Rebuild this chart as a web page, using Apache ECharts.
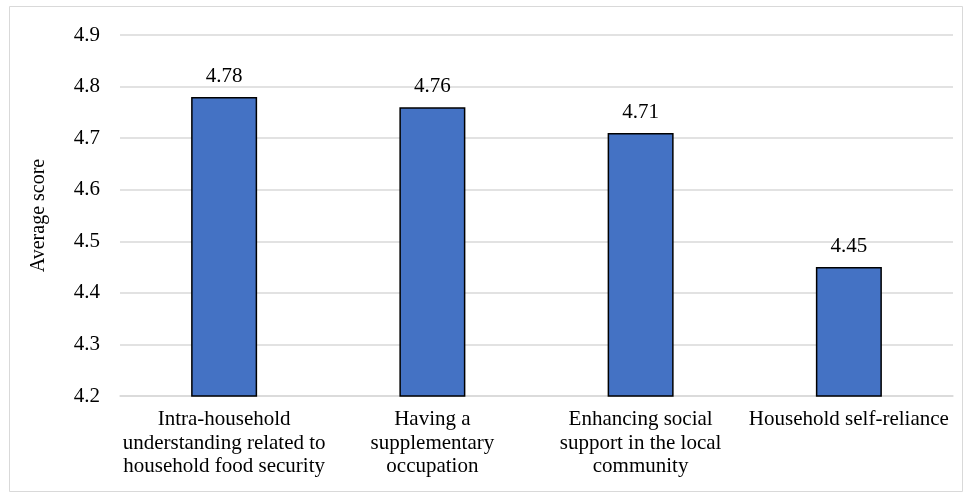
<!DOCTYPE html>
<html>
<head>
<meta charset="utf-8">
<script src="https://cdn.jsdelivr.net/npm/echarts@6/dist/echarts.min.js"></script>
<style>
html,body{margin:0;padding:0;background:#fff;}
#chart{width:969px;height:495px;}
</style>
</head>
<body>
<div id="chart"></div>
<script>
const categories = [
  "Intra-household\nunderstanding related to\nhousehold food security",
  "Having a\nsupplementary\noccupation",
  "Enhancing social\nsupport in the local\ncommunity",
  "Household self-reliance"
];
const values = [4.78, 4.76, 4.71, 4.45];
const yMin = 4.2, yMax = 4.9, yStep = 0.1;
const yName = "Average score";

const font = "'Liberation Serif', 'Times New Roman', serif";
const chart = echarts.init(document.getElementById('chart'));
chart.setOption({
  animation: false,
  backgroundColor: '#fff',
  graphic: [{
    type: 'rect',
    shape: {x: 9.5, y: 6.5, width: 953, height: 485},
    style: {fill: 'none', stroke: '#d9d9d9', lineWidth: 1},
    silent: true
  }],
  grid: {left: 120, right: 16, top: 35, bottom: 99, containLabel: false},
  xAxis: {
    type: 'category',
    data: categories,
    axisLine: {lineStyle: {color: '#d9d9d9', width: 1.5}},
    axisTick: {show: false},
    axisLabel: {
      interval: 0,
      color: '#000',
      fontFamily: font,
      fontSize: 21,
      lineHeight: 23.5,
      margin: 12
    }
  },
  yAxis: {
    type: 'value',
    min: yMin,
    max: yMax,
    interval: yStep,
    name: yName,
    nameLocation: 'middle',
    nameGap: 71,
    nameRotate: 90,
    nameTextStyle: {color: '#000', fontFamily: font, fontSize: 20},
    axisLine: {show: false},
    axisTick: {show: false},
    splitLine: {lineStyle: {color: '#d9d9d9', width: 1.5}},
    axisLabel: {
      color: '#000',
      fontFamily: font,
      fontSize: 21,
      margin: 20,
      formatter: v => v.toFixed(1)
    }
  },
  series: [{
    type: 'bar',
    data: values,
    barWidth: 66,
    itemStyle: {color: '#4472C4', borderColor: '#000', borderWidth: 1.5},
    label: {
      show: true,
      position: 'top',
      distance: 10,
      color: '#000',
      fontFamily: font,
      fontSize: 21,
      formatter: p => p.value.toFixed(2)
    }
  }]
});
</script>
</body>
</html>
